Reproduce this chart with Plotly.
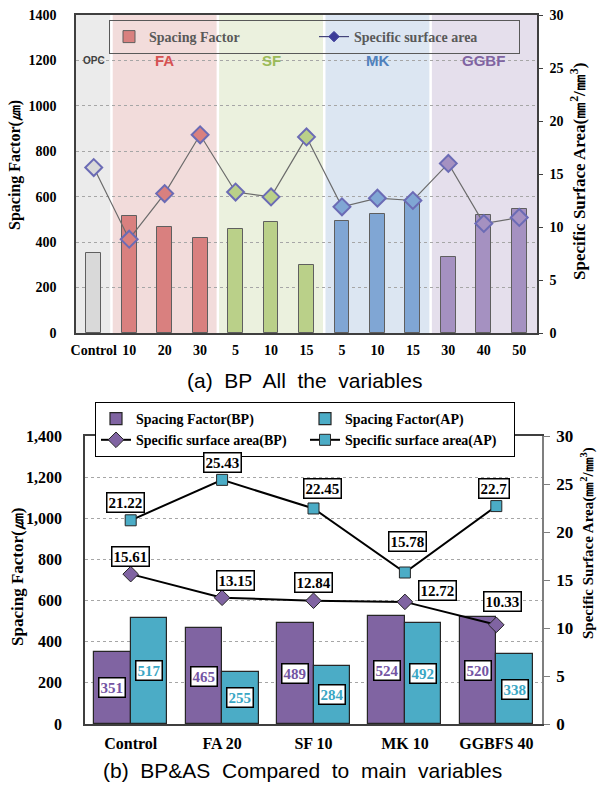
import plotly.graph_objects as go

# ---------------- data: chart (a) ----------------
categories_a = ["Control", "FA 10", "FA 20", "FA 30", "SF 5", "SF 10", "SF 15",
                "MK 5", "MK 10", "MK 15", "GGBF 30", "GGBF 40", "GGBF 50"]
tick_labels_a = ["Control", "10", "20", "30", "5", "10", "15", "5", "10", "15", "30", "40", "50"]
group_of_a = ["OPC", "FA", "FA", "FA", "SF", "SF", "SF", "MK", "MK", "MK", "GGBF", "GGBF", "GGBF"]
groups_a = ["OPC", "FA", "SF", "MK", "GGBF"]
spacing_a = [351, 513, 465, 419, 460, 489, 298, 492, 524, 575, 335, 520, 544]
ssa_a = [15.61, 8.85, 13.15, 18.7, 13.3, 12.84, 18.5, 11.9, 12.72, 12.5, 16.0, 10.33, 10.9]

# ---------------- data: chart (b) ----------------
categories_b = ["Control", "FA 20", "SF 10", "MK 10", "GGBFS 40"]
sf_bp = [351, 465, 489, 524, 520]
sf_ap = [517, 255, 284, 492, 338]
ssa_bp = [15.61, 13.15, 12.84, 12.72, 10.33]
ssa_ap = [21.22, 25.43, 22.45, 15.78, 22.7]

# ---------------- styles ----------------
W, H = 597, 787
SERIF = "Liberation Serif, Times New Roman, serif"
SANS = "Liberation Sans, Arial, sans-serif"
band_col = {"OPC": "#ebebeb", "FA": "#f2dcdb", "SF": "#ebf1de", "MK": "#dce6f2", "GGBF": "#e5dfec"}
bar_col = {"OPC": "#d9d9d9", "FA": "#d9807f", "SF": "#bad089", "MK": "#80a6d4", "GGBF": "#a591c1"}
lab_col = {"OPC": "#404040", "FA": "#d65252", "SF": "#9bbb59", "MK": "#4f81bd", "GGBF": "#8064a2"}
lab_size = {"OPC": 10, "FA": 15, "SF": 15, "MK": 15, "GGBF": 15}
PURPLE = "#8064a2"
TEAL = "#4bacc6"

# pixel layout
ax_l, ax_r, ay_t, ay_b = 76, 537, 15, 333
bx_l, bx_r, by_t, by_b = 85, 542, 436, 724


def px(x):
    return x / W


def py(y):
    return (H - y) / H


fig = go.Figure()

# ---- chart (a) bars, one trace per group ----
for g in groups_a:
    idx = [i for i, gg in enumerate(group_of_a) if gg == g]
    fig.add_trace(go.Bar(
        x=idx, y=[spacing_a[i] for i in idx], width=0.42,
        marker=dict(color=bar_col[g], line=dict(color="#5f5f5f", width=1)),
        name="Spacing Factor", legend="legend", legendgroup="sfa",
        showlegend=(g == "FA"), xaxis="x", yaxis="y", hoverinfo="y"))

# ---- chart (a) specific surface area line ----
fig.add_trace(go.Scatter(
    x=list(range(len(categories_a))), y=ssa_a, mode="lines+markers",
    line=dict(color="#6b6b6b", width=1.2),
    marker=dict(symbol="diamond", size=13,
                color=[bar_col[g] for g in group_of_a],
                line=dict(color="#6b6bb5", width=2)),
    showlegend=False, xaxis="x", yaxis="y2"))
fig.add_trace(go.Scatter(
    x=[None], y=[None], mode="lines+markers", name="Specific surface area",
    line=dict(color="#44447a", width=1.2),
    marker=dict(symbol="diamond", size=8, color="#3b3b98", line=dict(color="#3b3b98", width=1)),
    legend="legend", xaxis="x", yaxis="y2"))

# ---- chart (b) bars ----
fig.add_trace(go.Bar(
    x=categories_b, y=sf_bp, offset=-0.4, width=0.4, name="Spacing Factor(BP)",
    marker=dict(color=PURPLE, line=dict(color="#262626", width=1.2)),
    legend="legend2", xaxis="x2", yaxis="y3"))
fig.add_trace(go.Bar(
    x=categories_b, y=sf_ap, offset=0, width=0.4, name="Spacing Factor(AP)",
    marker=dict(color=TEAL, line=dict(color="#262626", width=1.2)),
    legend="legend2", xaxis="x2", yaxis="y3"))
fig.add_trace(go.Scatter(
    x=categories_b, y=ssa_bp, mode="lines+markers", name="Specific surface area(BP)",
    line=dict(color="black", width=2),
    marker=dict(symbol="diamond", size=12, color=PURPLE, line=dict(color="#262626", width=1)),
    legend="legend2", xaxis="x2", yaxis="y4"))
fig.add_trace(go.Scatter(
    x=categories_b, y=ssa_ap, mode="lines+markers", name="Specific surface area(AP)",
    line=dict(color="black", width=2),
    marker=dict(symbol="square", size=11, color=TEAL, line=dict(color="#262626", width=1)),
    legend="legend2", xaxis="x2", yaxis="y4"))

# ---- background bands for chart (a) ----
shapes = []
bounds = []
for g in groups_a:
    idx = [i for i, gg in enumerate(group_of_a) if gg == g]
    x0, x1 = min(idx) - 0.5, max(idx) + 0.5
    bounds.append((g, x0, x1, (min(idx) + max(idx)) / 2))
    shapes.append(dict(type="rect", xref="x", yref="y domain", x0=x0, x1=x1, y0=0, y1=1,
                       fillcolor=band_col[g], line=dict(width=0), layer="below"))
for g, x0, x1, c in bounds[1:]:
    shapes.append(dict(type="line", xref="x", yref="y domain", x0=x0, x1=x0, y0=0, y1=1,
                       line=dict(color="white", width=2.5), layer="below"))

annotations = []
# group labels
for g, x0, x1, c in bounds:
    annotations.append(dict(x=c, y=1200, xref="x", yref="y", text=g, showarrow=False,
                            xanchor="center", yanchor="middle",
                            font=dict(family=SANS, size=lab_size[g], color=lab_col[g], weight="bold")))

# axis titles (as annotations for precise placement)
tf = dict(family=SERIF, color="black", weight="bold")
ctr = dict(xref="paper", yref="paper", showarrow=False, xanchor="center", yanchor="middle")
annotations += [
    dict(ctr, x=px(15), y=py(165), text="Spacing Factor(㎛)", textangle=-90,
         font=dict(tf, size=16)),
    dict(ctr, x=px(578), y=py(172), text="Specific Surface Area(㎜<sup>2</sup>/㎜<sup>3</sup>)",
         textangle=-90, font=dict(tf, size=17)),
    dict(ctr, x=px(17), y=py(577), text="Spacing Factor(㎛)", textangle=-90,
         font=dict(tf, size=17)),
    dict(ctr, x=px(587), y=py(543), text="Specific Surface Area(㎜<sup>2</sup>/㎜<sup>3</sup>)",
         textangle=-90, font=dict(tf, size=15)),
]

# captions
annotations += [
    dict(ctr, x=px(304), y=py(380), text="(a)  BP  All  the  variables",
         font=dict(family=SANS, size=21, color="black")),
    dict(ctr, x=px(302), y=py(770), text="(b)  BP&amp;AS  Compared  to  main  variables",
         font=dict(family=SANS, size=21, color="black")),
]

# chart (b) value labels
box = dict(bgcolor="white", bordercolor="black", borderwidth=1.5, borderpad=1, showarrow=False,
           xanchor="center", yanchor="middle")
cat_px = (bx_r - bx_l) / len(categories_b)
bp_off = [(0, 18), (13, 17), (0, 18), (33, 11), (6, 23)]
ap_off = [(-5, 18), (0, 17), (9, 20), (3, 31), (-2, 18)]
for i, c in enumerate(categories_b):
    annotations.append(dict(box, x=c, y=ssa_bp[i], xref="x2", yref="y4", text=str(ssa_bp[i]),
                            xshift=bp_off[i][0], yshift=bp_off[i][1],
                            font=dict(family=SERIF, size=15, color="black", weight="bold")))
    annotations.append(dict(box, x=c, y=ssa_ap[i], xref="x2", yref="y4", text=str(ssa_ap[i]),
                            xshift=ap_off[i][0], yshift=ap_off[i][1],
                            font=dict(family=SERIF, size=15, color="black", weight="bold")))
    annotations.append(dict(box, x=c, y=sf_bp[i] / 2, xref="x2", yref="y3", text=str(sf_bp[i]),
                            xshift=-0.2 * cat_px,
                            font=dict(family=SERIF, size=15, color="#7354a3", weight="bold")))
    annotations.append(dict(box, x=c, y=sf_ap[i] / 2, xref="x2", yref="y3", text=str(sf_ap[i]),
                            xshift=0.2 * cat_px,
                            font=dict(family=SERIF, size=15, color="#3aa6c4", weight="bold")))

tickf = lambda s: dict(family=SERIF, size=s, color="black", weight="bold")
grid = dict(showgrid=True, gridcolor="#a6a6a6", griddash="dot", gridwidth=1)

fig.update_layout(
    width=W, height=H, autosize=False,
    margin=dict(l=0, r=0, t=0, b=0),
    paper_bgcolor="white", plot_bgcolor="white",
    barmode="overlay", bargap=0,
    shapes=shapes, annotations=annotations,
    xaxis=dict(domain=[px(ax_l), px(ax_r)], anchor="y", range=[-0.5, len(categories_a) - 0.5],
               tickmode="array", tickvals=list(range(len(categories_a))), ticktext=tick_labels_a,
               tickfont=tickf(14), showline=True, linecolor="#3f3f3f", linewidth=1.5, mirror=True,
               showgrid=False, zeroline=False, ticks="", ticklabelstandoff=3, automargin=False,
               fixedrange=True),
    yaxis=dict(domain=[py(ay_b), py(ay_t)], anchor="x", range=[0, 1400], dtick=200,
               tickfont=tickf(14), showline=True, linecolor="#3f3f3f", linewidth=1.5, mirror=True,
               zeroline=False, ticks="", ticklabelstandoff=15, automargin=False, **grid),
    yaxis2=dict(overlaying="y", side="right", anchor="x", range=[0, 30], dtick=5,
                tickfont=tickf(14), showgrid=False, zeroline=False, showline=True,
                linecolor="#3f3f3f", linewidth=1.5, ticks="outside", ticklen=4, tickcolor="#3f3f3f",
                ticklabelstandoff=4, automargin=False),
    xaxis2=dict(domain=[px(bx_l), px(bx_r)], anchor="y3", type="category",
                tickfont=tickf(16), showline=True, linecolor="#3f3f3f", linewidth=1.5, mirror=True,
                showgrid=False, zeroline=False, ticks="", ticklabelstandoff=4, automargin=False),
    yaxis3=dict(domain=[py(by_b), py(by_t)], anchor="x2", range=[0, 1400], dtick=200,
                tickformat=",", tickfont=tickf(16), showline=True, linecolor="#3f3f3f",
                linewidth=1.5, mirror=True, zeroline=False, ticks="", ticklabelstandoff=18,
                automargin=False, **grid),
    yaxis4=dict(overlaying="y3", side="right", anchor="x2", range=[0, 30], dtick=5,
                tickfont=tickf(17), showgrid=False, zeroline=False, showline=True,
                linecolor="#7f7f7f", linewidth=1.5, ticks="outside", ticklen=6, tickcolor="#7f7f7f",
                ticklabelstandoff=3, automargin=False),
    legend=dict(x=px(109), y=py(20), xanchor="left", yanchor="top", orientation="h",
                bgcolor="rgba(0,0,0,0)", bordercolor="#595959", borderwidth=1,
                font=dict(family=SERIF, size=14, color="#595959", weight="bold"),
                entrywidth=160, entrywidthmode="pixels", itemclick=False),
    legend2=dict(x=px(95), y=py(402), xanchor="left", yanchor="top", orientation="h",
                 bgcolor="white", bordercolor="black", borderwidth=1,
                 font=dict(family=SERIF, size=14, color="black", weight="bold"),
                 entrywidth=164, entrywidthmode="pixels", itemclick=False),
    showlegend=True,
)

fig.write_html("out.html")
